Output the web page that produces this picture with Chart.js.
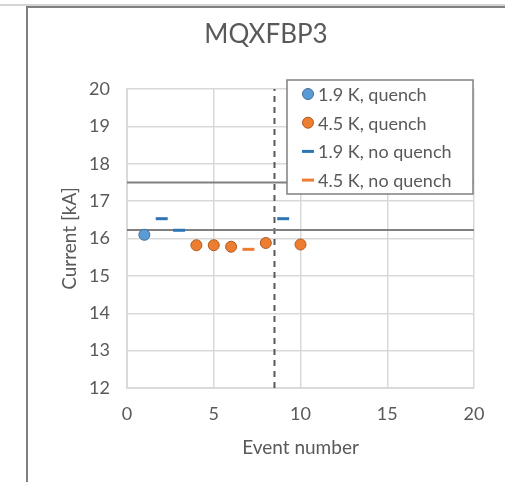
<!DOCTYPE html>
<html><head><meta charset="utf-8">
<script src="https://cdn.jsdelivr.net/npm/chart.js@4"></script>
<style>
html,body{margin:0;padding:0;background:#fff;}
#wrap{position:relative;width:505px;height:482px;overflow:hidden;background:#fff;}
#topline{position:absolute;left:0;top:4px;width:505px;height:2px;background:#d4d4d4;}
#frame{position:absolute;left:26px;top:6px;width:520px;height:520px;border-left:2px solid #808080;border-top:2px solid #808080;box-sizing:border-box;}
canvas{position:absolute;left:0;top:0;}
</style></head><body>
<div id="wrap"><canvas id="c" width="505" height="482" style="width:505px;height:482px"></canvas><div id="topline"></div><div id="frame"></div></div>
<script>
const chartTitle = 'MQXFBP3';
const xAxisTitle = 'Event number';
const yAxisTitle = 'Current [kA]';
const seriesLabels = ['1.9 K, quench', '4.5 K, quench', '1.9 K, no quench', '4.5 K, no quench'];
const q19x = [1];
const q19y = [16.10];
const q45x = [4, 5, 6, 8, 10];
const q45y = [15.82, 15.82, 15.78, 15.88, 15.84];
const nq19x = [2, 3, 9];
const nq19y = [16.53, 16.22, 16.53];
const nq45x = [7];
const nq45y = [15.71];
const refLevels = [17.5, 16.23];
const splitEvent = 8.5;
const xMin = 0, xMax = 20, xStep = 5;
const yMin = 12, yMax = 20, yStep = 1;

const FONT = 'Lato';
const TXT = '#595959';
const pts = (xs, ys) => xs.map((x, i) => ({x, y: ys[i]}));

const datasets = [
  {label: seriesLabels[0], data: pts(q19x, q19y), pointStyle: 'circle', pointRadius: 5.5,
   backgroundColor: '#5b9bd5', borderColor: '#41719c', borderWidth: 1, showLine: false, order: 1},
  {label: seriesLabels[1], data: pts(q45x, q45y), pointStyle: 'circle', pointRadius: 5.5,
   backgroundColor: '#ed7d31', borderColor: '#ae5a21', borderWidth: 1, showLine: false, order: 1},
  {label: seriesLabels[2], data: pts(nq19x, nq19y), pointStyle: 'line', pointRadius: 6,
   backgroundColor: '#2e75b6', borderColor: '#2e75b6', pointBorderWidth: 3, borderWidth: 3, showLine: false, order: 1},
  {label: seriesLabels[3], data: pts(nq45x, nq45y), pointStyle: 'line', pointRadius: 6,
   backgroundColor: '#ed7d31', borderColor: '#ed7d31', pointBorderWidth: 3, borderWidth: 3, showLine: false, order: 1},
];
refLevels.forEach(v => datasets.push({label: 'ref', data: [{x: xMin, y: v}, {x: xMax, y: v}], showLine: true,
  borderColor: '#808080', borderWidth: 2, pointRadius: 0, order: 5, isRef: true}));
datasets.push({label: 'split', data: [{x: splitEvent, y: yMin}, {x: splitEvent, y: yMax}], showLine: true,
  borderColor: '#595959', borderWidth: 2, borderDash: [6, 5], pointRadius: 0, order: 5, isRef: true});

const titlePlugin = {
  id: 'customTitle',
  afterDraw(chart) {
    const ctx = chart.ctx;
    ctx.save();
    ctx.fillStyle = TXT;
    ctx.font = '26px ' + FONT;
    ctx.textAlign = 'center';
    ctx.textBaseline = 'middle';
    ctx.fillText(chartTitle, 266, 35);
    ctx.restore();
  }
};

const legendPlugin = {
  id: 'customLegend',
  afterDraw(chart) {
    const ctx = chart.ctx;
    const bx = 287, by = 80, bw = 186, bh = 114;
    ctx.save();
    ctx.fillStyle = '#fff';
    ctx.fillRect(bx, by, bw, bh);
    ctx.strokeStyle = '#808080';
    ctx.lineWidth = 1.5;
    ctx.strokeRect(bx, by, bw, bh);
    ctx.font = '18px ' + FONT;
    ctx.textBaseline = 'middle';
    ctx.textAlign = 'left';
    for (let i = 0; i < 4; i++) {
      const ds = chart.data.datasets[i];
      const y = 94 + i * 28.7;
      const x = 308;
      if (ds.pointStyle === 'circle') {
        ctx.beginPath();
        ctx.arc(x, y, 5.5, 0, Math.PI * 2);
        ctx.fillStyle = ds.backgroundColor;
        ctx.fill();
        ctx.lineWidth = 1;
        ctx.strokeStyle = ds.borderColor;
        ctx.stroke();
      } else {
        ctx.beginPath();
        ctx.moveTo(x - 6, y);
        ctx.lineTo(x + 6, y);
        ctx.lineWidth = 3;
        ctx.strokeStyle = ds.borderColor;
        ctx.stroke();
      }
      ctx.fillStyle = TXT;
      ctx.fillText(ds.label, 318, y + 1);
    }
    ctx.restore();
  }
};

new Chart(document.getElementById('c'), {
  type: 'scatter',
  data: {datasets},
  options: {
    responsive: false,
    animation: false,
    layout: {padding: {left: 58, top: 89, right: 31, bottom: 23}},
    plugins: {legend: {display: false}, title: {display: false}, tooltip: {enabled: false}},
    scales: {
      x: {
        type: 'linear', min: xMin, max: xMax,
        ticks: {stepSize: xStep, color: TXT, font: {family: FONT, size: 18}, padding: 15},
        grid: {color: '#d9d9d9', lineWidth: 1.5, drawTicks: false},
        border: {color: '#d9d9d9', width: 2},
        title: {display: true, text: xAxisTitle, color: TXT, font: {family: FONT, size: 19}, padding: 0},
        afterFit(s) { s.height = 71; }
      },
      y: {
        type: 'linear', min: yMin, max: yMax,
        ticks: {stepSize: yStep, color: TXT, font: {family: FONT, size: 18}, padding: 17},
        grid: {color: '#d9d9d9', lineWidth: 1.5, drawTicks: false},
        border: {color: '#d9d9d9', width: 2},
        title: {display: true, text: yAxisTitle, color: TXT, font: {family: FONT, size: 19}, padding: 0},
        afterFit(s) { s.width = 69; }
      }
    }
  },
  plugins: [titlePlugin, legendPlugin]
});
</script>
</body></html>
